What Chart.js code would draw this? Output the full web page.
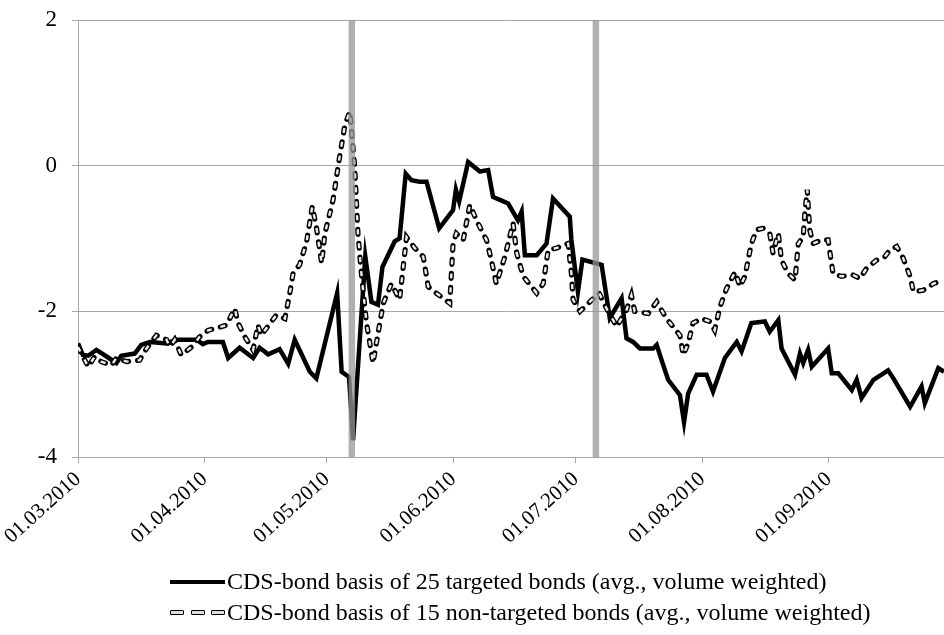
<!DOCTYPE html>
<html>
<head>
<meta charset="utf-8">
<script src="https://cdn.jsdelivr.net/npm/chart.js@4.4.1/dist/chart.umd.min.js"></script>
<style>
  html, body { margin: 0; padding: 0; background: #fff; }
  #wrap { position: relative; width: 944px; height: 635px; }
  #legend {
    position: absolute; left: 170px; top: 566px;
    font-family: "Liberation Serif", "Times New Roman", serif;
    font-size: 24px; color: #000; line-height: 31px;
  }
  .row { display: flex; align-items: center; height: 31px; white-space: nowrap; }
  .solid { width: 55px; height: 4px; background: #000; margin-right: 2px; }
  .dashes { width: 55px; display: flex; justify-content: space-between; margin-right: 2px; }
  .dashes span { width: 12px; height: 3px; border: 1.5px solid #000; background: #ddd; border-radius: 1px; }
</style>
</head>
<body>
<div id="wrap">
  <canvas id="basisChart" width="944" height="635"></canvas>
  <div id="legend"></div>
</div>
<script>
// x values are days since 01.03.2010
const monthDays = [0, 31, 61, 92, 122, 153, 184];
const monthLabels = ['01.03.2010', '01.04.2010', '01.05.2010', '01.06.2010', '01.07.2010', '01.08.2010', '01.09.2010'];
const lastDay = 212.2;

const seriesNames = [
  'CDS-bond basis of 25 targeted bonds (avg., volume weighted)',
  'CDS-bond basis of 15 non-targeted bonds (avg., volume weighted)'
];

// days of the two marked events (grey bars)
const eventDays = [67.1, 126.9];

const targetedDays = [
  0, 1.2, 2.5, 4.5, 7, 9.4, 10.6, 13.9, 15.5, 17.6, 21.7, 24.1, 29, 30.6, 31.8, 35.5,
  36.8, 39.6, 42.9, 44.5, 46.6, 49.4, 51.5, 53.1, 56.8, 58.4, 63.5, 64.6, 66.4, 67.4,
  70.4, 71.9, 73.5, 74.6, 77.6, 78.8, 80.3, 81.7, 83.7, 85.4, 88.5, 91.9, 92.6, 93.4,
  95.6, 98.5, 100.5, 101.7, 103.4, 105.4, 107.8, 108.7, 109.5, 112.4, 114.8, 116.4,
  120.5, 120.9, 122.5, 123.6, 128.3, 130.3, 133.2, 134.4, 136, 137.7, 140.9, 141.8,
  143, 144.6, 147.5, 148.5, 149.5, 151.6, 154, 155.6, 158.5, 161.4, 162.6, 165, 168.3,
  169.5, 171.6, 172.4, 175.7, 176.9, 177.7, 178.9, 179.8, 183.8, 184.7, 186.3, 189.6,
  190.8, 192, 194.9, 196.9, 198.5, 199.8, 203.9, 206.7, 207.5, 210.8, 212.2
];
const targetedBasis = [
  -2.44, -2.60, -2.61, -2.53, -2.62, -2.71, -2.61, -2.58, -2.46, -2.42, -2.44, -2.39, -2.39, -2.45, -2.42, -2.42,
  -2.64, -2.50, -2.64, -2.50, -2.59, -2.52, -2.72, -2.39, -2.83, -2.92, -1.75, -2.83, -2.90, -3.77,
  -1.25, -1.87, -1.91, -1.39, -1.04, -1.00, -0.11, -0.20, -0.22, -0.22, -0.86, -0.61, -0.33, -0.49,
  0.05, -0.08, -0.06, -0.43, -0.47, -0.52, -0.75, -0.63, -1.23, -1.23, -1.07, -0.45,
  -0.70, -1.02, -1.73, -1.29, -1.36, -2.09, -1.82, -2.37, -2.42, -2.51, -2.51, -2.46,
  -2.67, -2.94, -3.15, -3.52, -3.13, -2.87, -2.87, -3.10, -2.64, -2.42, -2.55, -2.16, -2.14,
  -2.28, -2.12, -2.51, -2.87, -2.58, -2.71, -2.53, -2.76, -2.51, -2.85, -2.85, -3.08,
  -2.94, -3.19, -2.94, -2.87, -2.81, -2.92, -3.31, -3.03, -3.26, -2.78, -2.83
];

const nonTargetedDays = [
  0, 2.5, 4.1, 5.7, 8.2, 9.4, 11.9, 15.1, 16.8, 19.2, 21.7, 22.5, 23.7, 25.3, 27.8, 29.8,
  31.9, 33.9, 36.4, 38.4, 39.2, 40.9, 42.9, 44.1, 44.9, 45.8, 48.6, 50.7, 51.9, 52.7,
  54.3, 56, 57.4, 58.4, 59.7, 60.5, 62.5, 64.1, 65.4, 66.6, 67.8, 68.6, 69.5, 70.7,
  72.3, 73.1, 74.8, 76.8, 78.8, 80.5, 82.5, 84.6, 85.8, 87.8, 91.1, 91.9, 92.7, 94.4,
  96, 98, 100.1, 101.3, 102.5, 104.6, 106.6, 107.5, 109.1, 112.4, 114, 115.2, 117.3,
  120.1, 120.9, 121.3, 123, 125.4, 127.7, 129.5, 132, 134.4, 135.6, 136.4, 139.7, 141.8,
  144.2, 147.5, 148.3, 149.5, 150.7, 152.8, 154.8, 156, 157.3, 158.9, 161, 162.2, 163.4,
  165, 166.3, 167.9, 169.5, 170.3, 171.6, 172.4, 174, 175.7, 176.5, 177.7, 178.1, 178.7,
  179.3, 180.1, 182.2, 183.8, 185, 187.1, 189.9, 191.6, 193.2, 195.6, 197.7, 198.9, 200.6,
  202.2, 203.9, 204.7, 207.1, 209.6, 212.2
];
const nonTargetedBasis = [
  -2.49, -2.76, -2.62, -2.69, -2.74, -2.64, -2.69, -2.67, -2.51, -2.33, -2.39, -2.49, -2.39, -2.60, -2.49, -2.35,
  -2.26, -2.23, -2.19, -1.96, -2.16, -2.35, -2.53, -2.19, -2.33, -2.26, -2.05, -2.10, -1.75, -1.48,
  -1.36, -1.05, -0.56, -0.84, -1.34, -0.93, -0.47, 0.12, 0.56, 0.74, -0.01, -0.93, -1.52, -2.16,
  -2.71, -2.44, -1.89, -1.62, -1.84, -0.98, -1.13, -1.25, -1.66, -1.75, -1.89, -1.07, -0.93, -1.02,
  -0.54, -0.79, -1.02, -1.30, -1.62, -1.25, -0.79, -1.20, -1.52, -1.75, -1.62, -1.16, -1.13,
  -1.07, -1.48, -1.84, -2.00, -1.87, -1.75, -1.96, -2.21, -1.98, -1.78, -2.00, -2.03, -1.87,
  -2.10, -2.33, -2.60, -2.44, -2.16, -2.10, -2.14, -2.26, -1.94, -1.69, -1.46, -1.66, -1.52,
  -1.07, -0.88, -0.86, -0.93, -1.20, -0.93, -1.30, -1.48, -1.57, -1.07, -0.98, -0.65, -0.33,
  -0.88, -1.07, -1.02, -1.02, -1.48, -1.52, -1.50, -1.55, -1.41, -1.30, -1.25, -1.16, -1.11,
  -1.27, -1.52, -1.73, -1.71, -1.62, -1.57
];

const serifFont = '"Liberation Serif", "Times New Roman", serif';
const gridColor = '#a6a6a6';

function toPoints(days, values) {
  return days.map((d, i) => ({ x: d, y: values[i] }));
}

// each event bar is a vertical segment from the bottom to the top of the value axis
const eventPoints = [];
eventDays.forEach(d => {
  eventPoints.push({ x: d, y: -4 }, { x: d, y: 2 }, { x: d, y: null });
});

const nonTargetedPoints = toPoints(nonTargetedDays, nonTargetedBasis);

const ctx = document.getElementById('basisChart').getContext('2d');
new Chart(ctx, {
  type: 'line',
  data: {
    datasets: [
      {
        label: seriesNames[0],
        data: toPoints(targetedDays, targetedBasis),
        borderColor: '#000',
        borderWidth: 4.5,
        pointRadius: 0,
        tension: 0,
        order: 3
      },
      {
        label: seriesNames[1],
        data: nonTargetedPoints,
        borderColor: '#000',
        borderWidth: 5.2,
        borderDash: [5, 9],
        borderCapStyle: 'round',
        pointRadius: 0,
        tension: 0,
        order: 2
      },
      {
        label: 'inner',
        data: nonTargetedPoints,
        borderColor: '#ececec',
        borderWidth: 2.4,
        borderDash: [5, 9],
        pointRadius: 0,
        tension: 0,
        order: 1
      },
      {
        label: 'events',
        data: eventPoints,
        borderColor: 'rgba(150,150,150,0.75)',
        borderWidth: 6.5,
        pointRadius: 0,
        spanGaps: false,
        order: 0
      }
    ]
  },
  options: {
    responsive: false,
    animation: false,
    layout: { padding: { top: 20, right: 0, left: 0, bottom: 0 } },
    plugins: {
      legend: { display: false },
      tooltip: { enabled: false }
    },
    scales: {
      x: {
        type: 'linear',
        min: 0,
        max: lastDay,
        afterBuildTicks: scale => {
          scale.ticks = monthDays.map(v => ({ value: v }));
        },
        afterFit: scale => { scale.height = 178; },
        ticks: {
          autoSkip: false,
          minRotation: 42,
          maxRotation: 42,
          padding: 4,
          color: '#000',
          font: { family: serifFont, size: 21 },
          callback: value => monthLabels[monthDays.indexOf(value)]
        },
        grid: { drawOnChartArea: false, drawTicks: true, tickLength: 6, color: gridColor },
        border: { color: gridColor, width: 1 }
      },
      y: {
        min: -4,
        max: 2,
        afterFit: scale => {
          scale.width = 78;
          scale.paddingTop = 0;
          scale.paddingBottom = 0;
        },
        ticks: {
          stepSize: 2,
          padding: 15,
          color: '#000',
          font: { family: serifFont, size: 23 }
        },
        grid: { color: gridColor, lineWidth: 1, tickLength: 6 },
        border: { color: gridColor, width: 1 }
      }
    }
  }
});

// legend below the chart
const legend = document.getElementById('legend');
seriesNames.forEach((name, i) => {
  const row = document.createElement('div');
  row.className = 'row';
  const sample = document.createElement('div');
  if (i === 0) {
    sample.className = 'solid';
  } else {
    sample.className = 'dashes';
    sample.innerHTML = '<span></span><span></span><span></span>';
  }
  const text = document.createElement('span');
  text.textContent = name;
  row.appendChild(sample);
  row.appendChild(text);
  legend.appendChild(row);
});
</script>
</body>
</html>
